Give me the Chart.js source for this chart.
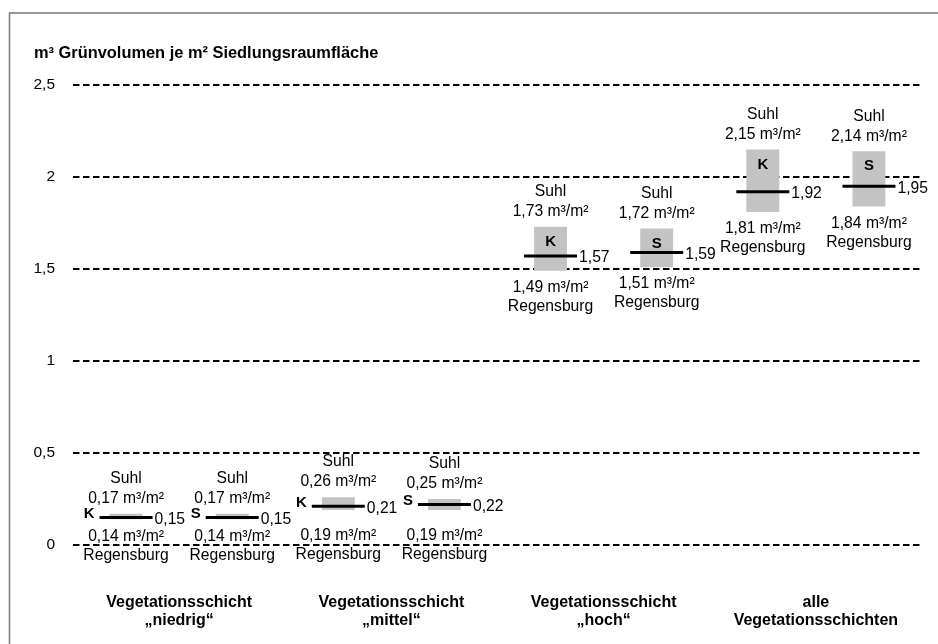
<!DOCTYPE html>
<html>
<head>
<meta charset="utf-8">
<script src="https://cdn.jsdelivr.net/npm/chart.js@4/dist/chart.umd.min.js"></script>
<style>
  html, body { margin: 0; padding: 0; background: #ffffff; }
  #wrap { width: 938px; height: 644px; }
</style>
</head>
<body>
<div id="wrap"><canvas id="c" width="938" height="644"></canvas></div>
<script>
// ---- data ----
const categories = ['K', 'S', 'K', 'S', 'K', 'S', 'K', 'S'];
const groupLabels = [
  ['Vegetationsschicht', '„niedrig“'],
  ['Vegetationsschicht', '„mittel“'],
  ['Vegetationsschicht', '„hoch“'],
  ['alle', 'Vegetationsschichten']
];
const regensburgValues = [0.14, 0.14, 0.19, 0.19, 1.49, 1.51, 1.81, 1.84];
const suhlValues       = [0.17, 0.17, 0.26, 0.25, 1.73, 1.72, 2.15, 2.14];
const meanValues       = [0.15, 0.15, 0.21, 0.22, 1.57, 1.59, 1.92, 1.95];
const yTicks = [0, 0.5, 1, 1.5, 2, 2.5];
const titleText = 'm³ Grünvolumen je m² Siedlungsraumfläche';
const upperCity = 'Suhl';
const lowerCity = 'Regensburg';
const unitText = ' m³/m²';

const FONT = "'Liberation Sans', Arial, Helvetica, sans-serif";
Chart.defaults.font.family = FONT;
Chart.defaults.color = '#000';

const fmt = v => v.toFixed(2).replace('.', ',');

const rangeData = categories.map((c, i) => [regensburgValues[i], suhlValues[i]]);

const annotPlugin = {
  id: 'annot',
  beforeDraw(chart) {
    const ctx = chart.ctx;
    ctx.save();
    ctx.fillStyle = '#ffffff';
    ctx.fillRect(0, 0, chart.width, chart.height);
    ctx.strokeStyle = '#808080';
    ctx.lineWidth = 1.6;
    ctx.strokeRect(9.5, 13, chart.width + 20, chart.height + 20);
    ctx.fillStyle = '#000';
    ctx.font = "bold 16.4px " + FONT;
    ctx.textAlign = 'left';
    ctx.textBaseline = 'middle';
    ctx.fillText(titleText, 34, 53);
    ctx.restore();
  },
  afterDatasetsDraw(chart) {
    const ctx = chart.ctx;
    const xs = chart.scales.x, ys = chart.scales.y;
    const lineRadius = chart.data.datasets[0].pointRadius;
    const y0 = ys.getPixelForValue(0);
    ctx.save();
    ctx.fillStyle = '#000';
    ctx.textBaseline = 'middle';
    categories.forEach((cat, i) => {
      const xc = xs.getPixelForValue(i);
      const top = ys.getPixelForValue(suhlValues[i]);
      const bottom = ys.getPixelForValue(regensburgValues[i]);
      const my = ys.getPixelForValue(meanValues[i]);
      ctx.font = "15.7px " + FONT;
      ctx.textAlign = 'center';
      ctx.fillText(upperCity, xc, top - 35);
      ctx.fillText(fmt(suhlValues[i]) + unitText, xc, top - 15);
      let by = bottom + 17;
      if (y0 - bottom < 60) by = Math.max(by, y0 - 9);
      ctx.fillText(fmt(regensburgValues[i]) + unitText, xc, by);
      ctx.fillText(lowerCity, xc, by + 19);
      // mean value label
      ctx.textAlign = 'left';
      ctx.fillText(fmt(meanValues[i]), xc + lineRadius + 2, my + 2);
      // K / S marker
      ctx.font = "bold 15px " + FONT;
      if (bottom - top > 30) {
        ctx.textAlign = 'center';
        ctx.fillText(cat, xc, top + 15);
      } else {
        ctx.textAlign = 'right';
        ctx.fillText(cat, xc - lineRadius - 5, my - 4);
      }
    });
    ctx.restore();
  }
};

new Chart(document.getElementById('c'), {
  plugins: [annotPlugin],
  data: {
    labels: categories,
    datasets: [
      {
        type: 'line',
        label: 'Mittel',
        data: meanValues,
        showLine: false,
        pointStyle: 'line',
        pointRadius: 26.5,
        pointHoverRadius: 26.5,
        pointBorderWidth: 3,
        borderColor: '#000',
        backgroundColor: '#000',
        xAxisID: 'x',
        order: 1
      },
      {
        type: 'bar',
        label: 'Spanne',
        data: rangeData,
        backgroundColor: '#c3c3c3',
        borderWidth: 0,
        categoryPercentage: 0.31,
        barPercentage: 1,
        xAxisID: 'x',
        order: 2
      }
    ]
  },
  options: {
    responsive: false,
    animation: false,
    layout: { autoPadding: false, padding: { left: 0, right: 16, top: 85, bottom: 0 } },
    plugins: { legend: { display: false }, tooltip: { enabled: false }, title: { display: false } },
    scales: {
      x: {
        type: 'category',
        display: false,
        offset: true
      },
      x2: {
        type: 'category',
        position: 'bottom',
        labels: groupLabels,
        offset: true,
        grid: { display: false, drawTicks: false },
        border: { display: false },
        ticks: {
          padding: 48,
          maxRotation: 0,
          autoSkip: false,
          font: { size: 16, weight: 'bold', lineHeight: 1.15 },
          color: '#000'
        },
        afterFit(scale) { scale.height = 99; scale.paddingLeft = 0; scale.paddingRight = 0; }
      },
      y: {
        min: 0,
        max: 2.5,
        afterBuildTicks(scale) { scale.ticks = yTicks.map(v => ({ value: v })); },
        ticks: {
          padding: 18,
          font: { size: 15.5 },
          color: '#000',
          callback: v => String(v).replace('.', ',')
        },
        grid: { color: '#000', lineWidth: 2, drawTicks: false },
        border: { display: false, dash: [6.5, 3.5] },
        afterFit(scale) { scale.width = 73; scale.paddingTop = 0; scale.paddingBottom = 0; }
      }
    }
  }
});
</script>
</body>
</html>
